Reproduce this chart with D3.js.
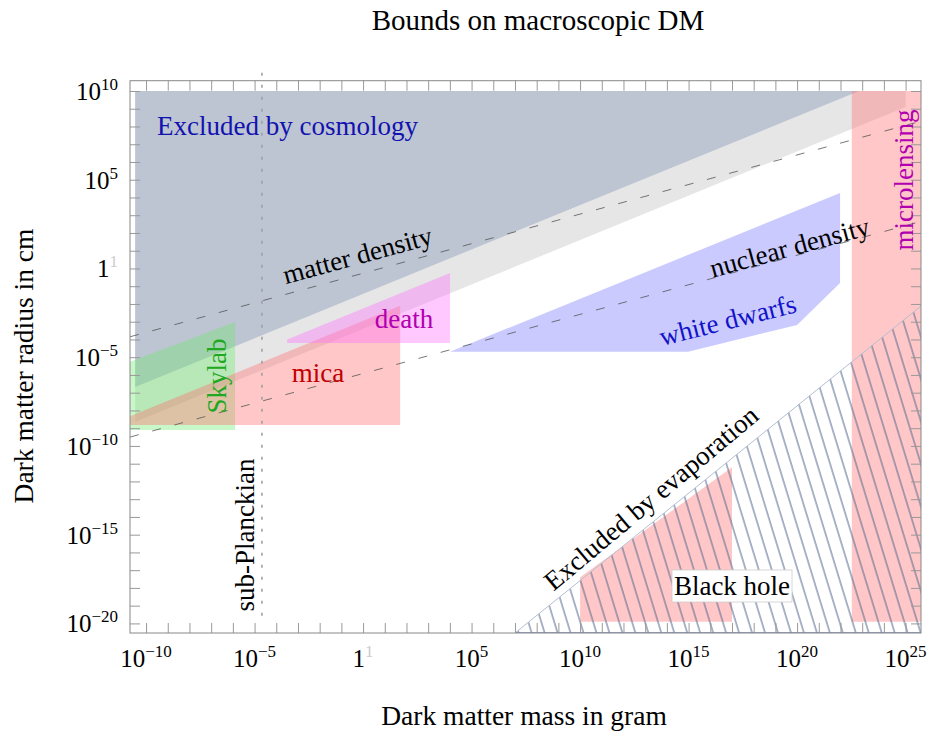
<!DOCTYPE html>
<html lang="en">
<head>
  <meta charset="UTF-8">
  <title>Bounds on macroscopic DM</title>
  <script src="https://d3js.org/d3.v7.min.js"></script>
  <style>
    body { margin: 0; background: #fff; }
    text { font-family: "Liberation Serif", "DejaVu Serif", serif; }
  </style>
</head>
<body>
<div id="chart"></div>
<script>
  // all values are log10 : mass in gram (x), radius in cm (y)
  var xDomain = [-10.74, 25.71];
  var yDomain = [-20.54, 10.58];
  var tickDecades = d3.range(-20, 11);
  var massDecades = d3.range(-10, 26);
  var massLabels = [-10, -5, 0, 5, 10, 15, 20, 25];
  var radiusLabels = [-20, -15, -10, -5, 0, 5, 10];

  var cosmology = [[-10.5, 10], [22.86, 10], [-10.5, -6.68]];
  var lightBand = [[-10.5, 10], [25, 10], [25, 9.1], [-10.5, -8.65]];
  var skylab = [[-10.88, -9.1], [-10.88, -5.32], [-5.9, -3.01], [-5.9, -9.1]];
  var mica = [[-10.88, -8.82], [-10.88, -8.39], [1.71, -2.1], [1.71, -8.82]];
  var death = [[-3.5, -4.2], [-3.5, -4.0], [4.01, -0.25], [4.01, -4.2]];
  var whiteDwarfs = [[4.01, -4.69], [14.98, -4.69], [20.0, -3.18], [21.98, -0.82], [21.98, 4.25]];
  var microlensing = [[22.52, -19.9], [22.52, 10], [25.71, 10], [25.71, -19.9]];
  var evaporation = [[7.0, -20.54], [25.71, -2.12], [25.71, -20.54]];
  var blackHole = [[10, -19.9], [10, -17.4], [17, -11.2], [17, -19.9]];
  var matterDensity = [[-10.74, -3.85], [25.71, 8.3]];
  var nuclearDensity = [[-10.74, -9.5], [25.71, 2.65]];
  var planckMass = -4.66;

  var W = 927, H = 737;
  var frame = { left: 130, right: 921, top: 80.7, bottom: 633 };

  var svg = d3.select("#chart").append("svg")
    .attr("width", W)
    .attr("height", H);

  var x = d3.scaleLinear().domain(xDomain).range([frame.left, frame.right]);
  var y = d3.scaleLinear().domain(yDomain).range([frame.bottom, frame.top]);

  var defs = svg.append("defs");
  defs.append("clipPath").attr("id", "plotClip")
    .append("rect")
    .attr("x", frame.left).attr("y", frame.top)
    .attr("width", frame.right - frame.left)
    .attr("height", frame.bottom - frame.top);

  // hatch for the evaporation region
  var hatch = defs.append("pattern")
    .attr("id", "hatch")
    .attr("patternUnits", "userSpaceOnUse")
    .attr("width", 12.4)
    .attr("height", 20)
    .attr("patternTransform", "rotate(-17)");
  hatch.append("line")
    .attr("x1", 1).attr("y1", -5)
    .attr("x2", 1).attr("y2", 25)
    .attr("stroke", "#56698f")
    .attr("stroke-width", 1);

  var line = d3.line().x(function(d) { return x(d[0]); }).y(function(d) { return y(d[1]); });
  function poly(d) { return line(d) + "Z"; }

  var plot = svg.append("g").attr("clip-path", "url(#plotClip)");

  plot.append("path").attr("d", poly(lightBand)).attr("fill", "#e6e6e6");
  plot.append("path").attr("d", poly(cosmology)).attr("fill", "#bdc4d2");
  plot.append("path").attr("d", poly(skylab)).attr("fill", "rgb(110,235,110)").attr("fill-opacity", 0.38);
  plot.append("path").attr("d", poly(mica)).attr("fill", "rgb(255,115,115)").attr("fill-opacity", 0.4);
  plot.append("path").attr("d", poly(death)).attr("fill", "rgb(255,110,255)").attr("fill-opacity", 0.38);
  plot.append("path").attr("d", poly(whiteDwarfs)).attr("fill", "rgb(115,115,255)").attr("fill-opacity", 0.38);
  plot.append("path").attr("d", poly(microlensing)).attr("fill", "rgb(255,115,115)").attr("fill-opacity", 0.4);
  plot.append("path").attr("d", poly(blackHole)).attr("fill", "rgb(255,115,115)").attr("fill-opacity", 0.4);

  // evaporation hatch and its edges
  plot.append("path").attr("d", poly(evaporation)).attr("fill", "url(#hatch)");
  plot.append("path").attr("d", line(evaporation.slice(0, 2)))
    .attr("fill", "none").attr("stroke", "#b4bfd2").attr("stroke-width", 1);
  plot.append("path").attr("d", line([evaporation[0], evaporation[2]]))
    .attr("fill", "none").attr("stroke", "#6d86b8").attr("stroke-width", 1.5);

  // density lines
  [matterDensity, nuclearDensity].forEach(function(d) {
    plot.append("path").attr("d", line(d))
      .attr("fill", "none")
      .attr("stroke", "#555")
      .attr("stroke-width", 0.8)
      .attr("stroke-dasharray", "9,14");
  });

  // Planck mass
  svg.append("line")
    .attr("x1", x(planckMass)).attr("x2", x(planckMass))
    .attr("y1", frame.top - 8).attr("y2", y(-20))
    .attr("stroke", "#a0a0a0")
    .attr("stroke-width", 1.6)
    .attr("stroke-dasharray", "3,9");

  // frame + ticks on all sides
  function tickAxis(axis, tf) {
    var g = svg.append("g").attr("transform", tf).call(axis.tickFormat("").tickSizeOuter(0));
    g.select(".domain").remove();
    g.selectAll("line").attr("stroke", "#999");
    return g;
  }
  tickAxis(d3.axisBottom(x).tickValues(massDecades).tickSize(-10), "translate(0," + frame.bottom + ")");
  tickAxis(d3.axisTop(x).tickValues(massDecades).tickSize(-10), "translate(0," + frame.top + ")");
  tickAxis(d3.axisLeft(y).tickValues(tickDecades).tickSize(-10), "translate(" + frame.left + ",0)");
  tickAxis(d3.axisRight(y).tickValues(tickDecades).tickSize(-10), "translate(" + frame.right + ",0)");

  svg.append("rect")
    .attr("x", frame.left).attr("y", frame.top)
    .attr("width", frame.right - frame.left)
    .attr("height", frame.bottom - frame.top)
    .attr("fill", "none")
    .attr("stroke", "#888")
    .attr("stroke-width", 1);

  // tick labels of the form 10^n
  function powerLabel(sel, e) {
    if (e === 0) {
      sel.append("tspan").text("1");
      sel.append("tspan").attr("dy", -10).attr("font-size", 17).attr("fill", "#ccc").text("1");
    } else {
      sel.append("tspan").text("10");
      sel.append("tspan").attr("dy", -10).attr("font-size", 17).text(e < 0 ? "\u2212" + (-e) : String(e));
    }
  }

  massLabels.forEach(function(e) {
    var t = svg.append("text")
      .attr("x", x(e)).attr("y", 667)
      .attr("text-anchor", "middle")
      .attr("font-size", 25);
    powerLabel(t, e);
  });
  radiusLabels.forEach(function(e) {
    var t = svg.append("text")
      .attr("x", 118).attr("y", y(e) + 9)
      .attr("text-anchor", "end")
      .attr("font-size", 25);
    powerLabel(t, e);
  });

  // titles
  svg.append("text").attr("x", 538).attr("y", 30).attr("text-anchor", "middle")
    .attr("font-size", 29).text("Bounds on macroscopic DM");
  svg.append("text").attr("x", 524).attr("y", 725).attr("text-anchor", "middle")
    .attr("font-size", 27.5).text("Dark matter mass in gram");
  svg.append("text").attr("transform", "translate(33,366) rotate(-90)").attr("text-anchor", "middle")
    .attr("font-size", 27.5).text("Dark matter radius in cm");

  // region labels
  function label(txt, cx, cy, angle, color, size) {
    return svg.append("text")
      .attr("transform", "translate(" + cx + "," + cy + ") rotate(" + angle + ")")
      .attr("text-anchor", "middle")
      .attr("font-size", size || 27)
      .attr("fill", color)
      .text(txt);
  }
  svg.append("text").attr("x", 157).attr("y", 135).attr("font-size", 27)
    .attr("fill", "#1212b0").text("Excluded by cosmology");
  label("matter density", 360, 264, -15.3, "#000");
  label("nuclear density", 792, 256, -15.3, "#000");
  label("white dwarfs", 730, 329, -14, "#1212c8");
  label("death", 404, 328, 0, "#b000b0");
  label("mica", 318, 382, 0, "#c00000");
  label("Skylab", 226, 376, -90, "#20a820");
  label("microlensing", 913, 180, -90, "#b000b0");
  label("sub-Planckian", 254, 535, -90, "#000");
  label("Excluded by evaporation", 657, 505, -40, "#000");

  // black hole label in a box
  svg.append("rect")
    .attr("x", 672).attr("y", 570).attr("width", 120).attr("height", 32)
    .attr("fill", "#fff").attr("stroke", "#ccc").attr("stroke-width", 0.8);
  label("Black hole", 732, 595, 0, "#000");
</script>
</body>
</html>
